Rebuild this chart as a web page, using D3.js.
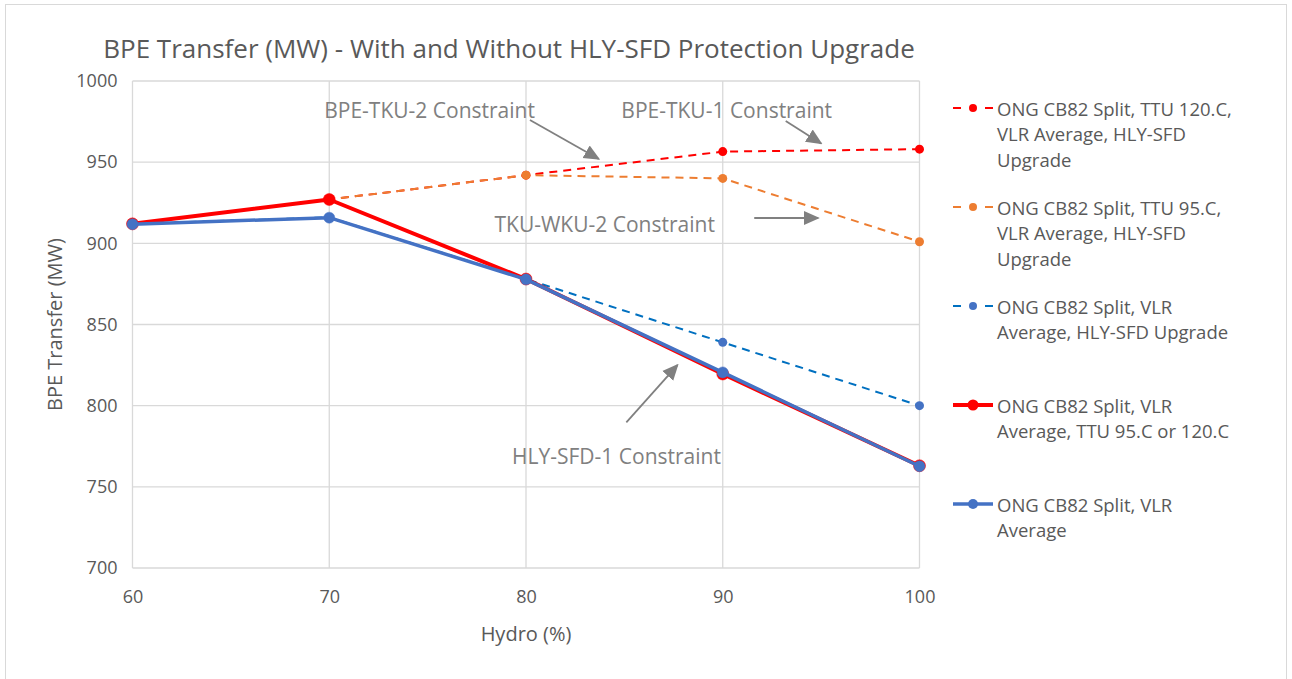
<!DOCTYPE html>
<html>
<head>
<meta charset="utf-8">
<script src="https://cdn.jsdelivr.net/npm/d3@7"></script>
<style>
  body { margin: 0; background: #fff; }
  svg { font-family: "Open Sans", sans-serif; }
</style>
</head>
<body>
<svg id="chart" width="1292" height="679"></svg>
<script>
// data
var hydro = [60, 70, 80, 90, 100];
var ttu120Upg = [912, 927, 942, 956.5, 958];
var ttu95Upg = [912, 927, 942, 940, 901];
var vlrUpg = [912, 916, 878, 839, 800];
var ttuEither = [912, 927, 878, 819.5, 763];
var vlrAvg = [911.8, 915.8, 877.8, 820.5, 762.7];
var yTicks = [700, 750, 800, 850, 900, 950, 1000];
var xTicks = [60, 70, 80, 90, 100];

var seriesNames = [
  "ONG CB82 Split, TTU 120.C, VLR Average, HLY-SFD Upgrade",
  "ONG CB82 Split, TTU 95.C, VLR Average, HLY-SFD Upgrade",
  "ONG CB82 Split, VLR Average, HLY-SFD Upgrade",
  "ONG CB82 Split, VLR Average, TTU 95.C or 120.C",
  "ONG CB82 Split, VLR Average"
];
// legend text as wrapped in the picture
var legendLines = [
  ["ONG CB82 Split, TTU 120.C,", "VLR Average, HLY-SFD", "Upgrade"],
  ["ONG CB82 Split, TTU 95.C,", "VLR Average, HLY-SFD", "Upgrade"],
  ["ONG CB82 Split, VLR", "Average, HLY-SFD Upgrade"],
  ["ONG CB82 Split, VLR", "Average, TTU 95.C or 120.C"],
  ["ONG CB82 Split, VLR", "Average"]
];

// annotations in data units: label position and arrow start/end
var notes = [
  {text: "BPE-TKU-2 Constraint", x: 75.1, y: 982, arrow: [[80.2, 976], [83.7, 952]]},
  {text: "BPE-TKU-1 Constraint", x: 90.2, y: 982, arrow: [[93.2, 975.4], [95.0, 961.5]]},
  {text: "TKU-WKU-2 Constraint", x: 84.0, y: 912, arrow: [[91.6, 915.6], [94.85, 915.6]]},
  {text: "HLY-SFD-1 Constraint", x: 84.6, y: 769, arrow: [[85.1, 789.7], [87.7, 825]]}
];

var styles = [
  {values: ttu120Upg, color: "#FF0000", mark: "#FF0000", width: 2, dash: "8,6", r: 4.5, from: 1},
  {values: ttu95Upg, color: "#ED7D31", mark: "#ED7D31", width: 2, dash: "8,6", r: 4.5, from: 1},
  {values: vlrUpg, color: "#0070C0", mark: "#4472C4", width: 2, dash: "8,6", r: 4.5, from: 2},
  {values: ttuEither, color: "#FF0000", mark: "#FF0000", width: 4, dash: null, r: 6, from: 0},
  {values: vlrAvg, color: "#4472C4", mark: "#4472C4", width: 3.5, dash: null, r: 5.5, from: 0}
];

var svg = d3.select("#chart");
var margin = {left: 132.5, top: 81, right: 372.5, bottom: 111};
var width = 1292 - margin.left - margin.right;
var height = 679 - margin.top - margin.bottom;

// outer chart border
svg.append("rect")
  .attr("x", 5.5).attr("y", 4.5)
  .attr("width", 1281).attr("height", 690)
  .attr("fill", "#fff")
  .attr("stroke", "#d9d9d9");

var g = svg.append("g").attr("transform", "translate(" + margin.left + "," + margin.top + ")");

var xs = d3.scaleLinear().domain([60, 100]).range([0, width]);
var ys = d3.scaleLinear().domain([700, 1000]).range([height, 0]);

// gridlines
g.selectAll(".hgrid").data(yTicks).enter().append("line")
  .attr("x1", 0).attr("x2", width)
  .attr("y1", function(d) { return ys(d); })
  .attr("y2", function(d) { return ys(d); })
  .attr("stroke", "#d9d9d9").attr("stroke-width", 1.3);
g.selectAll(".vgrid").data(xTicks).enter().append("line")
  .attr("y1", 0).attr("y2", height)
  .attr("x1", function(d) { return xs(d); })
  .attr("x2", function(d) { return xs(d); })
  .attr("stroke", "#d9d9d9").attr("stroke-width", 1.3);

// axes, drawn with d3 then restyled
var yAxis = g.append("g")
  .call(d3.axisLeft(ys).tickValues(yTicks).tickFormat(d3.format("d")).tickSize(0).tickPadding(15));
var xAxis = g.append("g").attr("transform", "translate(0," + height + ")")
  .call(d3.axisBottom(xs).tickValues(xTicks).tickFormat(d3.format("d")).tickSize(0).tickPadding(22));
[yAxis, xAxis].forEach(function(a) {
  a.select(".domain").remove();
  a.selectAll("text").attr("font-size", "18px").attr("fill", "#595959")
    .attr("font-family", "Open Sans, sans-serif");
});

// series lines and markers
var line = d3.line()
  .x(function(d) { return xs(d[0]); })
  .y(function(d) { return ys(d[1]); });

styles.forEach(function(s) {
  var pts = hydro.map(function(h, i) { return [h, s.values[i]]; });
  var shown = pts.slice(s.from);
  g.append("path")
    .datum(pts)
    .attr("fill", "none")
    .attr("stroke", s.color)
    .attr("stroke-width", s.width)
    .attr("stroke-dasharray", s.dash)
    .attr("stroke-linejoin", "round")
    .attr("d", line);
  g.selectAll(null).data(shown).enter().append("circle")
    .attr("cx", function(d) { return xs(d[0]); })
    .attr("cy", function(d) { return ys(d[1]); })
    .attr("r", s.r)
    .attr("fill", s.mark)
    .attr("stroke", s.dash ? "none" : (s.color == "#FF0000" ? "#FF0000" : "#4472C4"))
    .attr("stroke-width", 0.5);
});

// annotations
var arrowGray = "#808080";
svg.append("defs").append("marker")
  .attr("id", "head")
  .attr("viewBox", "0 0 10 10")
  .attr("refX", 9).attr("refY", 5)
  .attr("markerWidth", 9).attr("markerHeight", 9)
  .attr("markerUnits", "strokeWidth")
  .attr("orient", "auto")
  .append("path").attr("d", "M0,0.5 L10,5 L0,9.5 z").attr("fill", arrowGray);

notes.forEach(function(n) {
  g.append("text")
    .attr("x", xs(n.x)).attr("y", ys(n.y))
    .attr("text-anchor", "middle")
    .attr("dominant-baseline", "central")
    .attr("font-size", "21px")
    .attr("fill", "#808080")
    .text(n.text);
  g.append("line")
    .attr("x1", xs(n.arrow[0][0])).attr("y1", ys(n.arrow[0][1]))
    .attr("x2", xs(n.arrow[1][0])).attr("y2", ys(n.arrow[1][1]))
    .attr("stroke", arrowGray).attr("stroke-width", 1.8)
    .attr("marker-end", "url(#head)");
});

// title
svg.append("text")
  .attr("x", 509).attr("y", 48)
  .attr("text-anchor", "middle")
  .attr("dominant-baseline", "central")
  .attr("font-size", "26px")
  .attr("fill", "#595959")
  .text("BPE Transfer (MW) - With and Without HLY-SFD Protection Upgrade");

// axis titles
svg.append("text")
  .attr("x", margin.left + width / 2).attr("y", 633)
  .attr("text-anchor", "middle")
  .attr("dominant-baseline", "central")
  .attr("font-size", "20px").attr("fill", "#595959")
  .text("Hydro (%)");
svg.append("text")
  .attr("transform", "translate(54," + (margin.top + height / 2) + ") rotate(-90)")
  .attr("text-anchor", "middle")
  .attr("dominant-baseline", "central")
  .attr("font-size", "20px").attr("fill", "#595959")
  .text("BPE Transfer (MW)");

// legend
var legTop = [108, 207, 306, 405, 504];
var lineH = 25.7;
var leg = svg.append("g");
styles.forEach(function(s, i) {
  var e = leg.append("g").attr("transform", "translate(953," + legTop[i] + ")");
  if (s.dash) {
    e.append("line").attr("x1", 0).attr("x2", 8).attr("stroke", s.color).attr("stroke-width", 2);
    e.append("line").attr("x1", 32).attr("x2", 40).attr("stroke", s.color).attr("stroke-width", 2);
  } else {
    e.append("line").attr("x1", 0).attr("x2", 40).attr("stroke", s.color).attr("stroke-width", s.width);
  }
  e.append("circle").attr("cx", 20).attr("cy", 0).attr("r", s.r - 0.5).attr("fill", s.mark);
  e.selectAll("text").data(legendLines[i]).enter().append("text")
    .attr("x", 44)
    .attr("y", function(d, k) { return k * lineH; })
    .attr("dominant-baseline", "central")
    .attr("font-size", "18.5px").attr("fill", "#595959")
    .text(function(d) { return d; });
});
</script>
</body>
</html>
